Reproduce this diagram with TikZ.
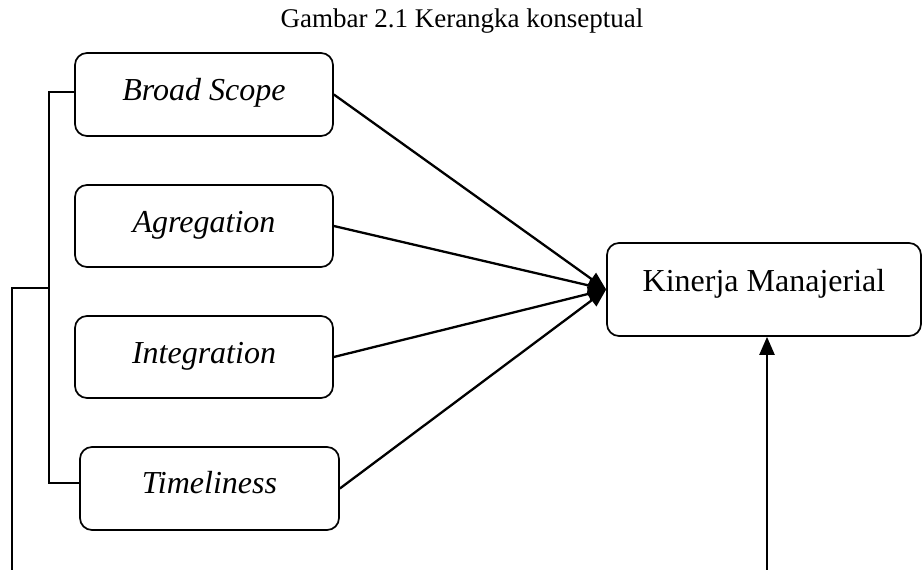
\documentclass[tikz,border=0pt]{standalone}
\usepackage{fontspec}
\setmainfont{Liberation Serif}
\usetikzlibrary{arrows.meta}
\begin{document}
\begin{tikzpicture}[x=1pt,y=-1pt,
  box/.style={draw,line width=1.7pt,rounded corners=12pt,inner sep=0pt,font=\fontsize{32}{38}\selectfont\itshape},
  conn/.style={line width=2.3pt},
  arr/.style={line width=2.3pt,-{Triangle[length=18pt,width=15pt]}},
  tx/.style={font=\fontsize{27}{32}\selectfont}]
\useasboundingbox (0,0) rectangle (922,570);
\node[tx] (title) at (462,21) {Gambar 2.1 Kerangka konseptual};
\node[box,minimum width=258pt,minimum height=83pt] (bs) at (204,94.5) {\raisebox{11pt}{Broad Scope}};
\node[box,minimum width=258pt,minimum height=82pt] (ag) at (204,226) {\raisebox{9pt}{Agregation}};
\node[box,minimum width=258pt,minimum height=82pt] (in) at (204,357) {\raisebox{8pt}{Integration}};
\node[box,minimum width=259pt,minimum height=83pt] (ti) at (209.5,488.5) {\raisebox{12pt}{Timeliness}};
\node[box,font=\fontsize{32}{38}\selectfont,minimum width=314pt,minimum height=93pt] (km) at (764,289.5) {\raisebox{19pt}{Kinerja Manajerial}};
\draw[arr] (bs.east) -- (km.west);
\draw[arr] (ag.east) -- (km.west);
\draw[arr] (in.east) -- (km.west);
\draw[arr] (ti.east) -- (km.west);
\coordinate (b1) at (49,92);
\coordinate (b2) at (49,483);
\coordinate (b3) at (49,288);
\coordinate (b4) at (12,288);
\coordinate (b5) at (12,572);
\coordinate (r1) at (767,572);
\draw[conn] (bs.west |- b1) -- (b1) -- (b2) -- (ti.west |- b2);
\draw[conn] (b3) -- (b4) -- (b5);
\draw[arr] (r1) -- (km.south -| r1);
\end{tikzpicture}
\end{document}
